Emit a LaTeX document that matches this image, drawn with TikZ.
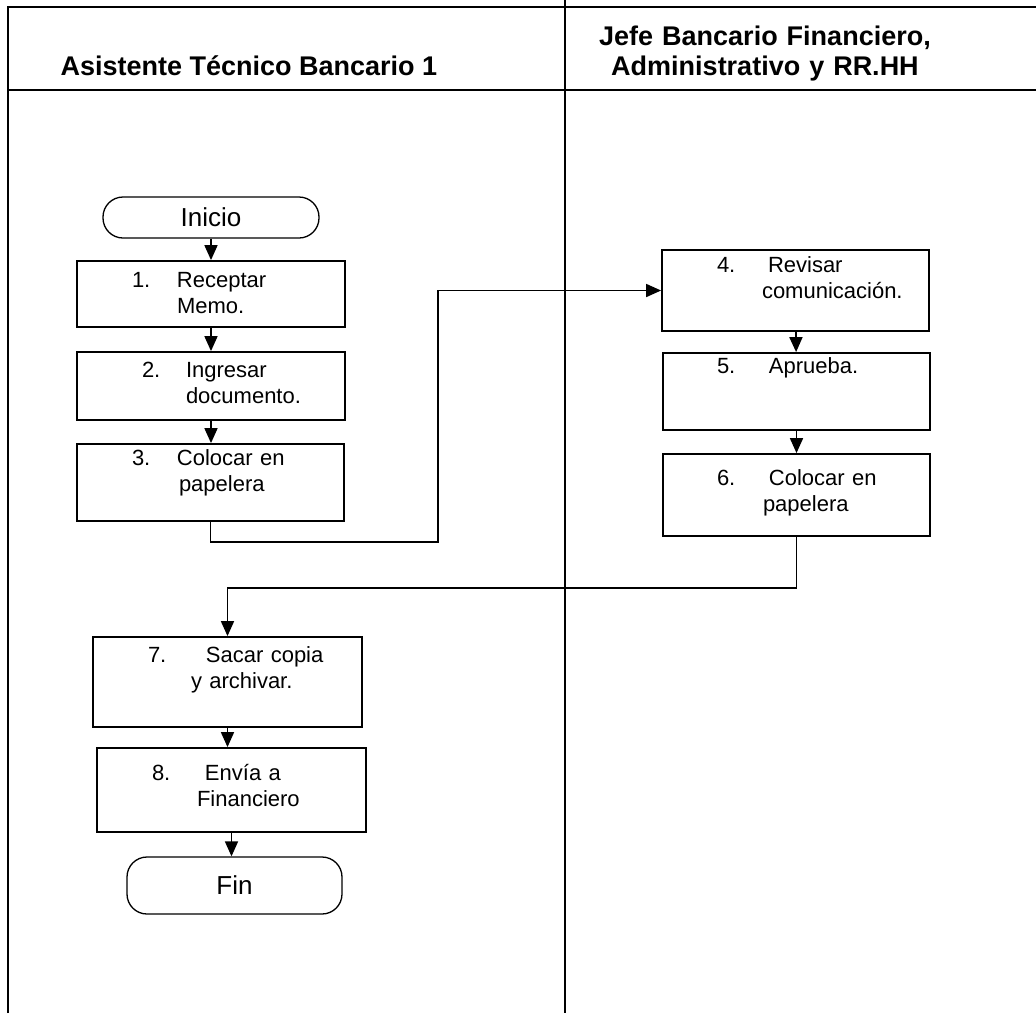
\documentclass[tikz,border=0pt]{standalone}
\usepackage{fontspec}
\setmainfont{Liberation Sans}
\usetikzlibrary{arrows.meta}

\begin{document}
\begin{tikzpicture}[x=1pt, y=-1pt,
    paso/.style={draw, line width=1.8pt, inner sep=0pt, align=left, font=\fontsize{22}{26}\selectfont},
    term/.style={draw, line width=1.3pt, rounded corners=20pt, inner sep=0pt, font=\fontsize{26}{30}\selectfont},
    carril/.style={font=\fontsize{27}{30}\selectfont\bfseries},
    flecha/.style={line width=1.7pt, -{Triangle[length=15pt,width=13pt]}},
    marco/.style={line width=1.3pt}]
    \useasboundingbox (0,0) rectangle (1036,1013);
    % lanes
    \draw[marco] (8,1013) -- (8,7) -- (1036,7);
    \draw[marco] (8,90) -- (1036,90);
    \draw[marco] (565,0) -- (565,1013);
    \node[carril, anchor=base west] at (57,75) (asis) {Asistente Técnico Bancario 1};
    \node[carril, anchor=base, align=center, text width=420pt] at (765,45) (jefe) {Jefe Bancario Financiero,\\Administrativo y RR.HH};
    % steps
    \node[term, minimum width=216pt, minimum height=41pt] at (211,217.5) (ini) {Inicio};
    \node[paso, text width=268pt, text height=26pt, text depth=40pt] at (211,294) (b1) {\hspace*{55pt}\makebox[45pt][l]{1.}Receptar\\\hspace*{100pt}Memo.};
    \node[paso, text width=268pt, text height=25pt, text depth=43pt] at (211,386) (b2) {\hspace*{65pt}\makebox[44pt][l]{2.}Ingresar\\\hspace*{109pt}documento.};
    \node[paso, text width=267pt, text height=21pt, text depth=56pt] at (210.5,482.5) (b3) {\hspace*{55pt}\makebox[45pt][l]{3.}Colocar en\\\hspace*{102pt}papelera};
    \node[paso, text width=267pt, text height=22pt, text depth=59pt] at (795.5,290.5) (b4) {\hspace*{55pt}\makebox[51pt][l]{4.}Revisar\\\hspace*{100pt}comunicación.};
    \node[paso, text width=267pt, text height=20pt, text depth=57pt] at (796.5,391.5) (b5) {\hspace*{54pt}\makebox[52pt][l]{5.}Aprueba.};
    \node[paso, text width=267pt, text height=31pt, text depth=51pt] at (796.5,495) (b6) {\hspace*{54pt}\makebox[52pt][l]{6.}Colocar en\\\hspace*{100pt}papelera};
    \node[paso, text width=269pt, text height=25pt, text depth=65pt] at (227.5,682) (b7) {\hspace*{55pt}\makebox[58pt][l]{7.}Sacar copia\\\hspace*{98pt}y archivar.};
    \node[paso, text width=269pt, text height=32pt, text depth=52pt] at (231.5,790) (b8) {\hspace*{55pt}\makebox[53pt][l]{8.}Envía a\\\hspace*{100pt}Financiero};
    \node[term, minimum width=215pt, minimum height=57pt] at (234.5,885.5) (fin) {Fin};
    \coordinate (m1) at (438,542);
    % flow
    \draw[flecha] (ini) -- (b1);
    \draw[flecha] (b1) -- (b2);
    \draw[flecha] (b2.south) -- (b2.south |- b3.north);
    \draw[flecha] (b3.south) |- (m1) |- (b4.west);
    \draw[flecha] (b4) -- (b5);
    \draw[flecha] (b5) -- (b6);
    \draw[flecha] (b6.south) -- ++(0,51) -| (b7.north);
    \draw[flecha] (b7.south) -- (b7.south |- b8.north);
    \draw[flecha] (b8.south) -- (b8.south |- fin.north);
\end{tikzpicture}
\end{document}
